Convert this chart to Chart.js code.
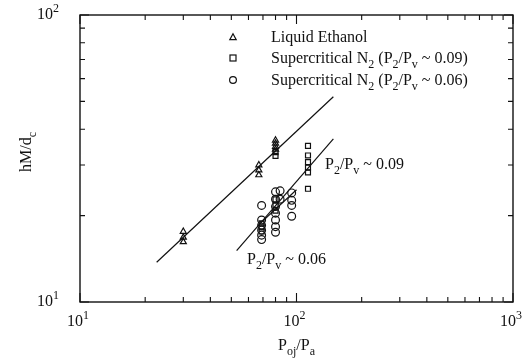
<!DOCTYPE html>
<html><head><meta charset="utf-8">
<script src="https://cdn.jsdelivr.net/npm/chart.js@4.4.0/dist/chart.umd.min.js"></script>
<style>html,body{margin:0;padding:0;background:#fff;}</style>
</head><body>
<canvas id="c" width="530" height="359" style="display:block"></canvas>
<script>
// ---- data ----
const xRange = [10, 1000];
const yRange = [10, 100];
const xTickLabels = [10, 100, 1000];
const yTickLabels = [10, 100];

const ethanolX = [30, 30, 30, 67, 67, 67, 80, 80, 80, 80];
const ethanolY = [17.6, 16.8, 16.2, 30.0, 28.8, 27.7, 36.6, 35.7, 34.8, 34.0];

const n2a_X = [80, 80, 113, 113, 113, 113, 113, 113, 80, 80, 80, 69, 69, 69];
const n2a_Y = [33.3, 32.3, 35.0, 32.4, 30.7, 29.4, 28.3, 24.8, 22.8, 21.8, 20.8, 18.8, 18.2, 17.6];

const n2b_X = [69, 69, 69, 69, 69, 69, 80, 80, 80, 80, 80, 80, 80, 84, 84, 95, 95, 95, 95];
const n2b_Y = [21.7, 19.3, 18.5, 17.8, 17.1, 16.5, 24.2, 22.8, 21.5, 20.4, 19.3, 18.3, 17.5, 24.4, 22.8, 24.0, 22.6, 21.7, 19.9];

const fitEthanolX = [22.6, 148];
const fitEthanolY = [13.75, 51.9];
const fit09X = [52.9, 148];
const fit09Y = [15.1, 37.0];
const fit06X = [68, 100];
const fit06Y = [18.8, 24.6];

const legendLabels = ['Liquid Ethanol', 'Supercritical N2 (P2/Pv ~ 0.09)', 'Supercritical N2 (P2/Pv ~ 0.06)'];

// ---- helpers ----
const zip = (xs, ys) => xs.map((x, i) => ({x: x, y: ys[i]}));
const SERIF = '"Liberation Serif", "DejaVu Serif", serif';
const SMALL = 0.78;

function richWidth(ctx, parts, size) {
  let w = 0;
  for (const [t, k] of parts) {
    ctx.font = (k === 'n' ? size : Math.round(size * SMALL)) + 'px ' + SERIF;
    w += ctx.measureText(t).width;
  }
  return w;
}
function drawRich(ctx, parts, x, y, size, align) {
  const w = richWidth(ctx, parts, size);
  let cx = align === 'center' ? x - w / 2 : (align === 'right' ? x - w : x);
  ctx.textBaseline = 'alphabetic';
  ctx.textAlign = 'left';
  for (const [t, k] of parts) {
    const s = k === 'n' ? size : Math.round(size * SMALL);
    ctx.font = s + 'px ' + SERIF;
    const dy = k === 'sub' ? size * 0.33 : (k === 'sup' ? -size * 0.42 : 0);
    ctx.fillText(t, cx, y + dy);
    cx += ctx.measureText(t).width;
  }
}
function supLabel(v) {
  return [['10', 'n'], [String(Math.round(Math.log10(v))), 'sup']];
}

const overlay = {
  id: 'overlay',
  afterDatasetsDraw(chart) {
    const ctx = chart.ctx;
    const a = chart.chartArea;
    const xs = chart.scales.x, ys = chart.scales.y;
    ctx.save();
    ctx.strokeStyle = '#111';
    ctx.fillStyle = '#111';
    ctx.lineWidth = 1.4;
    ctx.strokeRect(a.left, a.top, a.right - a.left, a.bottom - a.top);
    ctx.lineWidth = 1.1;
    // ticks
    const decadesX = [10, 100];
    ctx.beginPath();
    for (const d of decadesX) {
      for (let m = 1; m <= 10; m++) {
        const v = d * m;
        if (v > xRange[1]) continue;
        const px = xs.getPixelForValue(v);
        const len = (m === 1 || m === 10) ? 9 : 5;
        ctx.moveTo(px, a.bottom); ctx.lineTo(px, a.bottom - len);
        ctx.moveTo(px, a.top); ctx.lineTo(px, a.top + len);
      }
    }
    for (let m = 1; m <= 10; m++) {
      const py = ys.getPixelForValue(10 * m);
      const len = (m === 1 || m === 10) ? 9 : 5;
      ctx.moveTo(a.left, py); ctx.lineTo(a.left + len, py);
      ctx.moveTo(a.right, py); ctx.lineTo(a.right - len, py);
    }
    ctx.stroke();
    // tick labels
    for (const v of xTickLabels) {
      drawRich(ctx, supLabel(v), xs.getPixelForValue(v) - 2, a.bottom + 24, 16, 'center');
    }
    for (const v of yTickLabels) {
      drawRich(ctx, supLabel(v), a.left - 21, ys.getPixelForValue(v) + 4, 16, 'right');
    }
    // axis titles
    drawRich(ctx, [['P', 'n'], ['oj', 'sub'], ['/P', 'n'], ['a', 'sub']], (a.left + a.right) / 2, a.bottom + 48, 16, 'center');
    ctx.save();
    ctx.translate(31, 152);
    ctx.rotate(-Math.PI / 2);
    drawRich(ctx, [['hM/d', 'n'], ['c', 'sub']], 0, 0, 16, 'center');
    ctx.restore();
    // legend
    const lx = 233, tx = 271;
    const rows = [37, 58, 80];
    ctx.lineWidth = 1.2;
    ctx.beginPath();
    ctx.moveTo(lx, rows[0] - 3.2); ctx.lineTo(lx + 3.2, rows[0] + 2.6); ctx.lineTo(lx - 3.2, rows[0] + 2.6); ctx.closePath(); ctx.stroke();
    ctx.strokeRect(lx - 3, rows[1] - 3, 6, 6);
    ctx.beginPath(); ctx.arc(lx, rows[2], 3.4, 0, Math.PI * 2); ctx.stroke();
    const fs = 16;
    drawRich(ctx, [[legendLabels[0], 'n']], tx, rows[0] + 5, fs, 'left');
    drawRich(ctx, [['Supercritical N', 'n'], ['2', 'sub'], [' (P', 'n'], ['2', 'sub'], ['/P', 'n'], ['v', 'sub'], [' ~ 0.09)', 'n']], tx, rows[1] + 5, fs, 'left');
    drawRich(ctx, [['Supercritical N', 'n'], ['2', 'sub'], [' (P', 'n'], ['2', 'sub'], ['/P', 'n'], ['v', 'sub'], [' ~ 0.06)', 'n']], tx, rows[2] + 5, fs, 'left');
    // annotations
    drawRich(ctx, [['P', 'n'], ['2', 'sub'], ['/P', 'n'], ['v', 'sub'], [' ~ 0.09', 'n']], 325, 169, fs, 'left');
    drawRich(ctx, [['P', 'n'], ['2', 'sub'], ['/P', 'n'], ['v', 'sub'], [' ~ 0.06', 'n']], 247, 264, fs, 'left');
    ctx.restore();
  }
};

const lineStyle = {showLine: true, borderColor: '#111', borderWidth: 1.2, pointRadius: 0, fill: false, order: 2};
const ptStyle = {showLine: false, borderColor: '#111', backgroundColor: 'rgba(0,0,0,0)', borderWidth: 1.2, order: 1};

new Chart(document.getElementById('c'), {
  type: 'scatter',
  data: {
    datasets: [
      Object.assign({label: 'fitEthanol', data: zip(fitEthanolX, fitEthanolY)}, lineStyle),
      Object.assign({label: 'fit09', data: zip(fit09X, fit09Y)}, lineStyle),
      Object.assign({label: 'fit06', data: zip(fit06X, fit06Y)}, lineStyle),
      Object.assign({label: legendLabels[0], data: zip(ethanolX, ethanolY), pointStyle: 'triangle', pointRadius: 3.5}, ptStyle),
      Object.assign({label: legendLabels[1], data: zip(n2a_X, n2a_Y), pointStyle: 'rect', pointRadius: 3.5}, ptStyle),
      Object.assign({label: legendLabels[2], data: zip(n2b_X, n2b_Y), pointStyle: 'circle', pointRadius: 3.9}, ptStyle)
    ]
  },
  options: {
    responsive: false,
    animation: false,
    devicePixelRatio: 1,
    layout: {padding: {left: 80, top: 15, right: 17, bottom: 57}},
    plugins: {legend: {display: false}, tooltip: {enabled: false}},
    scales: {
      x: {type: 'logarithmic', min: xRange[0], max: xRange[1], display: false},
      y: {type: 'logarithmic', min: yRange[0], max: yRange[1], display: false}
    }
  },
  plugins: [overlay]
});
</script>
</body></html>
